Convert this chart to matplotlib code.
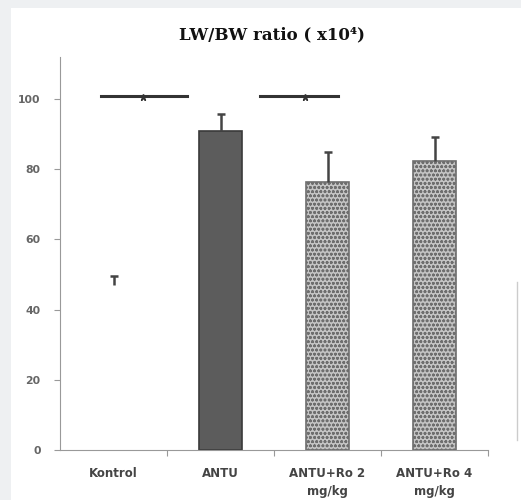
import matplotlib.pyplot as plt
from matplotlib.lines import Line2D
from matplotlib.patches import Rectangle

groups = ["Kontrol", "ANTU", "ANTU+Ro 2\nmg/kg", "ANTU+Ro 4\nmg/kg"]
means = [47, 91, 76.3, 82.3]
errors = [2.5, 4.7, 8.6, 6.8]
yticks = [0, 20, 40, 60, 80, 100]

# significance bars: (x start, x end, y, marker x)
sig_lines = [(-0.12, 0.69, 101, 0.28), (1.37, 2.1, 101, 1.79)]

plt.rcParams["hatch.color"] = "#7a7a7a"
plt.rcParams["hatch.linewidth"] = 0.8

fig = plt.figure(figsize=(5.21, 5.0), dpi=100, facecolor="#eef0f2")
fig.patches.append(Rectangle((11 / 521, 0), 1, 1 - 8 / 500, transform=fig.transFigure,
                             facecolor="white", edgecolor="none", zorder=-10))
ax = fig.add_axes([60 / 521, 0.1, 428 / 521, 393 / 500])
ax.set_facecolor("white")

x = list(range(len(groups)))
faces = ["white", "#5c5c5c", "#c4c4c4", "#c4c4c4"]
edges = ["white", "#3a3a3a", "#6e6e6e", "#6e6e6e"]
hatches = [None, None, "oooo", "oooo"]
for i in x:
    ax.bar(i, means[i], width=0.41, color=faces[i], edgecolor=edges[i],
           hatch=hatches[i], linewidth=1.2, zorder=2)
    eb = ax.errorbar(i, means[i], yerr=[[0], [errors[i]]], fmt="none",
                     ecolor="#444444", elinewidth=1.8, capsize=3, capthick=1.8, zorder=3)
    eb[1][0].set_visible(False)  # only the upper cap

for x0, x1, y, xm in sig_lines:
    ax.plot([x0, x1], [y, y], color="#333333", lw=2.2, zorder=4)
    ax.plot(xm, y - 0.3, marker="*", ms=5, color="#333333", zorder=5)

ax.set_xlim(-0.5, 3.5)
ax.set_ylim(0, 112)
ax.set_yticks(yticks)
ax.set_yticklabels([str(t) for t in yticks], fontsize=7.8, fontweight="bold", color="#666666")
ax.set_xticks([0.5, 1.5, 2.5, 3.5])
ax.set_xticklabels([])
ax.set_xticks(x, minor=True)
ax.set_xticklabels(groups, minor=True, fontsize=8.5, fontweight="bold", color="#444444",
                   linespacing=1.5, va="top")
ax.tick_params(axis="x", which="minor", length=0, pad=12)
ax.tick_params(axis="x", which="major", length=4, direction="out", color="#999999")
ax.tick_params(axis="y", length=4, color="#999999", pad=10)
for s in ["top", "right"]:
    ax.spines[s].set_visible(False)
ax.spines["left"].set_color("#999999")
ax.spines["bottom"].set_color("#999999")

fig.text(272 / 521, 1 - 35 / 500, "LW/BW ratio ( x10⁴)", ha="center", va="center",
         fontsize=12, fontweight="bold", family="DejaVu Serif", color="#111111")

fig.lines.append(Line2D([517 / 521, 517 / 521], [1 - 440 / 500, 1 - 282 / 500],
                        transform=fig.transFigure, color="#cccccc", lw=1))

fig.savefig("out.png", dpi=100, facecolor=fig.get_facecolor())
